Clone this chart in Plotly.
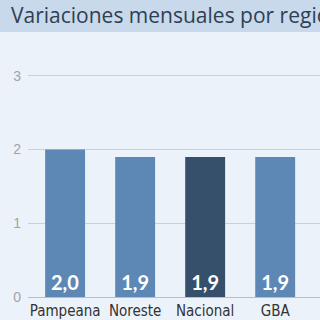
import plotly.graph_objects as go

title = "Variaciones mensuales por región"
categories = ["Pampeana", "Noreste", "Nacional", "GBA", "Patagonia"]
values = [2.0, 1.9, 1.9, 1.9, 1.9]
value_labels = ["2,0", "1,9", "1,9", "1,9", "1,9"]
bar_colors = ["#5d88b6", "#5d88b6", "#36506c", "#5d88b6", "#5d88b6"]
y_ticks = [0, 1, 2, 3]

fig = go.Figure()
fig.add_trace(go.Bar(
    x=categories, y=values,
    marker=dict(color=bar_colors, line=dict(width=0)),
    width=0.57,
    text=["<b>%s</b>" % t for t in value_labels],
    textposition="inside", insidetextanchor="start",
    textangle=0,
    textfont=dict(family="Lato", size=20, color="white"),
))

fig.add_shape(type="rect", xref="paper", yref="paper", x0=0, x1=1,
              y0=1 - 32 / 320, y1=1, fillcolor="#c7d9eb", line=dict(width=0), layer="below")
fig.add_annotation(text=title, xref="paper", yref="paper", x=9 / 320, y=1 - 15 / 320,
                   xanchor="left", yanchor="middle", showarrow=False,
                   font=dict(family="Open Sans", size=21, color="#2f3f52"))

fig.update_layout(
    width=320, height=320,
    margin=dict(l=0, r=0, t=0, b=0, autoexpand=False),
    paper_bgcolor="#ecf2f9", plot_bgcolor="#ecf2f9",
    showlegend=False,
    xaxis=dict(domain=[28 / 320, 1], range=[-0.53, 3.64], showgrid=False, automargin=False,
               tickfont=dict(family="Liberation Sans Narrow, DejaVu Sans Condensed, Roboto, sans-serif",
                             size=15, color="#333333"),
               ticks="", showline=False, ticklabelstandoff=3),
    yaxis=dict(domain=[23 / 320, 281 / 320], range=[0, 3.5], tickvals=y_ticks, automargin=False,
               ticktext=[str(v) for v in y_ticks],
               gridcolor="#c9d0d8", gridwidth=1, zeroline=True, zerolinecolor="#b8bec6",
               zerolinewidth=1,
               tickfont=dict(family="Liberation Sans", size=14, color="#a0a4a8"),
               ticks="", ticklabelstandoff=6),
)

fig.write_html("out.html")
